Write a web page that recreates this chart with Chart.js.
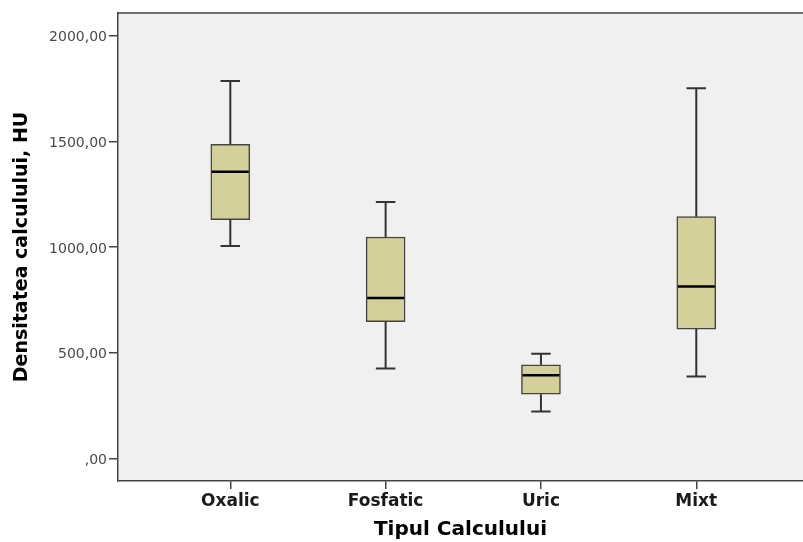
<!DOCTYPE html>
<html>
<head>
<meta charset="utf-8">
<title>Densitatea calculului</title>
<script src="https://cdn.jsdelivr.net/npm/chart.js@4.4.0/dist/chart.umd.min.js"></script>
<style>
  html, body { margin: 0; padding: 0; background: #fff; }
  #wrap { width: 803px; height: 542px; position: relative; }
</style>
</head>
<body>
<div id="wrap"><canvas id="boxChart"></canvas></div>
<script>
// Box plot data (HU)
const categories = ["Oxalic", "Fosfatic", "Uric", "Mixt"];
const whiskerLow = [1005, 426, 222, 388];
const q1 = [1130, 647, 304, 612];
const median = [1357, 759, 394, 814];
const q3 = [1487, 1048, 443, 1144];
const whiskerHigh = [1786, 1214, 495, 1752];
const yTicks = [0, 500, 1000, 1500, 2000];

const boxFill = "#d4d09a";
const lineDark = "#333333";

// plot background + frame line on top
const framePlugin = {
  id: 'frame',
  beforeDraw(chart) {
    const { ctx, chartArea: a } = chart;
    ctx.save();
    ctx.fillStyle = "#f0f0f0";
    ctx.fillRect(a.left, a.top, a.right - a.left, a.bottom - a.top);
    ctx.strokeStyle = "#444";
    ctx.lineWidth = 1.5;
    ctx.beginPath();
    ctx.moveTo(a.left, a.top);
    ctx.lineTo(a.right, a.top);
    ctx.stroke();
    ctx.restore();
  }
};

// whiskers, caps and median lines
const whiskerPlugin = {
  id: 'whiskers',
  afterDatasetsDraw(chart) {
    const { ctx, scales: { x, y } } = chart;
    const meta = chart.getDatasetMeta(0);
    ctx.save();
    ctx.lineCap = 'butt';
    categories.forEach((c, i) => {
      const cx = x.getPixelForValue(i + 1);
      const bar = meta.data[i];
      const half = bar.width / 2;
      const capHalf = half / 2;
      ctx.strokeStyle = lineDark;
      ctx.lineWidth = 2;
      ctx.beginPath();
      ctx.moveTo(cx, y.getPixelForValue(q3[i]));
      ctx.lineTo(cx, y.getPixelForValue(whiskerHigh[i]));
      ctx.moveTo(cx, y.getPixelForValue(q1[i]));
      ctx.lineTo(cx, y.getPixelForValue(whiskerLow[i]));
      ctx.moveTo(cx - capHalf, y.getPixelForValue(whiskerHigh[i]));
      ctx.lineTo(cx + capHalf, y.getPixelForValue(whiskerHigh[i]));
      ctx.moveTo(cx - capHalf, y.getPixelForValue(whiskerLow[i]));
      ctx.lineTo(cx + capHalf, y.getPixelForValue(whiskerLow[i]));
      ctx.stroke();
      // median
      ctx.strokeStyle = "#000";
      ctx.lineWidth = 2.5;
      ctx.beginPath();
      ctx.moveTo(cx - half + 1, y.getPixelForValue(median[i]));
      ctx.lineTo(cx + half - 1, y.getPixelForValue(median[i]));
      ctx.stroke();
    });
    ctx.restore();
  }
};

new Chart(document.getElementById("boxChart"), {
  type: 'bar',
  data: {
    datasets: [{
      data: categories.map((c, i) => ({ x: i + 1, y: [q1[i], q3[i]] })),
      backgroundColor: boxFill,
      borderColor: "#444",
      borderWidth: 1.5,
      borderSkipped: false,
      barThickness: 39
    }]
  },
  options: {
    responsive: true,
    maintainAspectRatio: false,
    animation: false,
    layout: { padding: { top: 13, right: 0, bottom: 0, left: 0 } },
    plugins: {
      legend: { display: false },
      tooltip: { enabled: false }
    },
    scales: {
      x: {
        type: 'linear',
        offset: false,
        min: 0.277,
        max: 4.687,
        afterBuildTicks: (axis) => { axis.ticks = categories.map((c, i) => ({ value: i + 1 })); },
        afterFit: (axis) => { axis.height = 61; },
        border: { display: true, color: "#444", width: 1.5 },
        grid: { drawOnChartArea: false, drawTicks: true, tickLength: 8, color: "#444", lineWidth: 1.5, offset: false },
        ticks: {
          autoSkip: false,
          maxRotation: 0,
          padding: 2,
          color: "#1a1a1a",
          font: { family: "DejaVu Sans", weight: 'bold', size: 17 },
          callback: (v) => categories[v - 1]
        },
        title: {
          display: true,
          text: "Tipul Calculului",
          color: "#000",
          padding: { top: 0, bottom: 0 },
          font: { family: "DejaVu Sans", weight: 'bold', size: 20 }
        }
      },
      y: {
        min: -107,
        max: 2108,
        afterBuildTicks: (axis) => { axis.ticks = yTicks.map(v => ({ value: v })); },
        afterFit: (axis) => { axis.width = 118; },
        border: { display: true, color: "#444", width: 1.5 },
        grid: { drawOnChartArea: false, drawTicks: true, tickLength: 9, color: "#444", lineWidth: 1.5 },
        ticks: {
          padding: 2,
          labelOffset: 2,
          color: "#4a4a4a",
          font: { family: "DejaVu Sans", size: 14 },
          callback: (v) => v === 0 ? ",00" : v + ",00"
        },
        title: {
          display: true,
          text: "Densitatea calculului, HU",
          color: "#000",
          padding: { top: 11, bottom: 0 },
          font: { family: "DejaVu Sans", weight: 'bold', size: 19 }
        }
      }
    }
  },
  plugins: [framePlugin, whiskerPlugin]
});
</script>
</body>
</html>
